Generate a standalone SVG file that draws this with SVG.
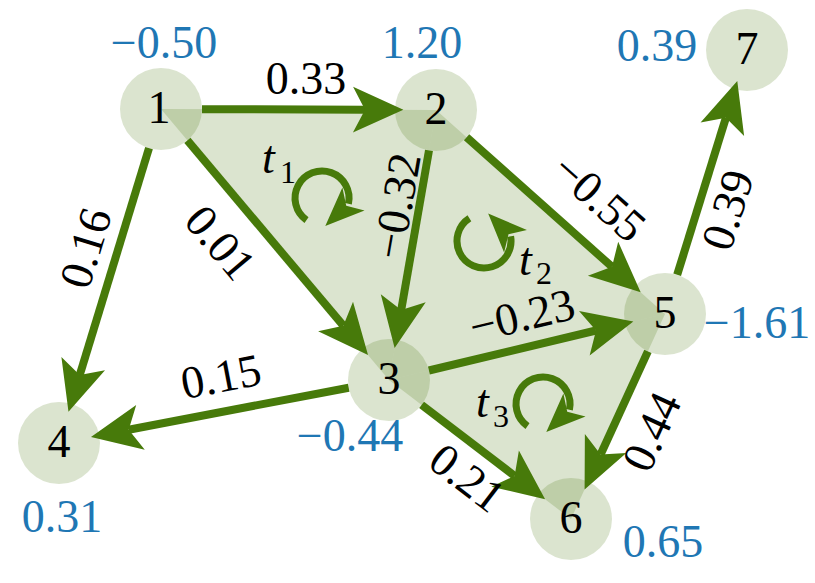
<svg xmlns="http://www.w3.org/2000/svg" xmlns:xlink="http://www.w3.org/1999/xlink" width="815" height="583" viewBox="0 0 815 583">
<style>
.tri{fill:#4a7a10;fill-opacity:0.2;stroke:none}
.node{fill:#4a7a10;fill-opacity:0.2;stroke:none}
.edge{stroke:#477a0a;stroke-width:8;fill:none;marker-end:url(#ah)}
.rot{stroke:#477a0a;stroke-width:7;fill:none}
.num{fill:#000;text-anchor:middle}
.val{fill:#1f77b4;text-anchor:middle}
.lab{fill:#000;text-anchor:middle}
.tl{font-style:italic;fill:#000}
.sub{font-size:32px;font-style:normal}
</style>
<defs>
<marker id="ah" markerUnits="userSpaceOnUse" orient="auto" markerWidth="60" markerHeight="60" viewBox="-15 -25 50 50" refX="0" refY="0" overflow="visible">
<path d="M32,0 L-10,-19 L0,0 L-10,19 Z" fill="#477a0a"/>
</marker>
<path id="rh" d="M32,0 L-7,-16 L3,0 L-7,16 Z" fill="#477a0a"/>
</defs>

<g id="triangles">
<polygon class="tri" points="161,109 436,110 389,380"/>
<polygon class="tri" points="436,110 665,314 389,380"/>
<polygon class="tri" points="389,380 665,314 571,519"/>
</g>

<g font-family="Liberation Serif, serif" font-size="46">
<g id="rotations">
<path class="rot" d="M306.5,220.1 A27,27 0 1 1 348.4,203.8"/>
<use xlink:href="#rh" transform="translate(348.4,203.8) rotate(136.25)"/>
<text class="tl" x="262" y="173">t<tspan class="sub" x="280" y="183">1</tspan></text>
<path class="rot" d="M469.4,218.3 A27,27 0 1 0 510.6,236.3"/>
<use xlink:href="#rh" transform="translate(510.6,236.3) rotate(-134.5)"/>
<text class="tl" x="519" y="275">t<tspan class="sub" x="536" y="284">2</tspan></text>
<path class="rot" d="M527.5,426.1 A27,27 0 1 1 569.4,409.8"/>
<use xlink:href="#rh" transform="translate(569.4,409.8) rotate(136.25)"/>
<text class="tl" x="476" y="417">t<tspan class="sub" x="493" y="427">3</tspan></text>
</g>

<g id="connectors">
<line class="edge" x1="202" y1="109.15" x2="365" y2="109.7"/>
<line class="edge" x1="149" y1="148.2" x2="79.7" y2="375.1"/>
<line class="edge" x1="187.4" y1="140.4" x2="343.3" y2="325.7"/>
<line class="edge" x1="429" y1="150.4" x2="401.2" y2="310.1"/>
<line class="edge" x1="466.6" y1="137.3" x2="612" y2="266.8"/>
<line class="edge" x1="428.9" y1="370.5" x2="596" y2="330.5"/>
<line class="edge" x1="348.7" y1="387.7" x2="128.7" y2="429.7"/>
<line class="edge" x1="421.6" y1="404.9" x2="514.6" y2="475.9"/>
<line class="edge" x1="647.9" y1="351.3" x2="600.6" y2="454.5"/>
<line class="edge" x1="677.2" y1="274.8" x2="725.9" y2="117.8"/>
<text class="lab" x="306" y="94">0.33</text>
<text class="lab" transform="translate(86,248) rotate(-73)" x="0" y="15">0.16</text>
<text class="lab" transform="translate(220,243) rotate(49.9)" x="0" y="15">0.01</text>
<text class="lab" transform="translate(397,206) rotate(-80.1)" x="0" y="15">−0.32</text>
<text class="lab" transform="translate(599,198) rotate(41.7)" x="0" y="15">−0.55</text>
<text class="lab" transform="translate(728,210) rotate(-72.7)" x="0" y="15">0.39</text>
<text class="lab" transform="translate(522,316) rotate(-13.4)" x="0" y="15">−0.23</text>
<text class="lab" transform="translate(221,377) rotate(-10.8)" x="0" y="15">0.15</text>
<text class="lab" transform="translate(467,478) rotate(37.4)" x="0" y="15">0.21</text>
<text class="lab" transform="translate(652,432) rotate(-65.4)" x="0" y="15">0.44</text>
</g>

<g id="node1"><circle class="node" cx="161" cy="109" r="41"/><text class="num" x="159" y="123">1</text><text class="val" x="164" y="58">−0.50</text></g>
<g id="node2"><circle class="node" cx="436" cy="110" r="41"/><text class="num" x="436" y="124">2</text><text class="val" x="422" y="58">1.20</text></g>
<g id="node3"><circle class="node" cx="389" cy="380" r="41"/><text class="num" x="389" y="394">3</text><text class="val" x="350" y="451">−0.44</text></g>
<g id="node4"><circle class="node" cx="59" cy="443" r="41"/><text class="num" x="59" y="457">4</text><text class="val" x="62" y="532">0.31</text></g>
<g id="node5"><circle class="node" cx="665" cy="314" r="41"/><text class="num" x="665" y="328">5</text><text class="val" x="757" y="338">−1.61</text></g>
<g id="node6"><circle class="node" cx="571" cy="519" r="41"/><text class="num" x="571" y="533">6</text><text class="val" x="663" y="557">0.65</text></g>
<g id="node7"><circle class="node" cx="747" cy="50" r="41"/><text class="num" x="747" y="64">7</text><text class="val" x="657" y="61">0.39</text></g>
</g>
</svg>
